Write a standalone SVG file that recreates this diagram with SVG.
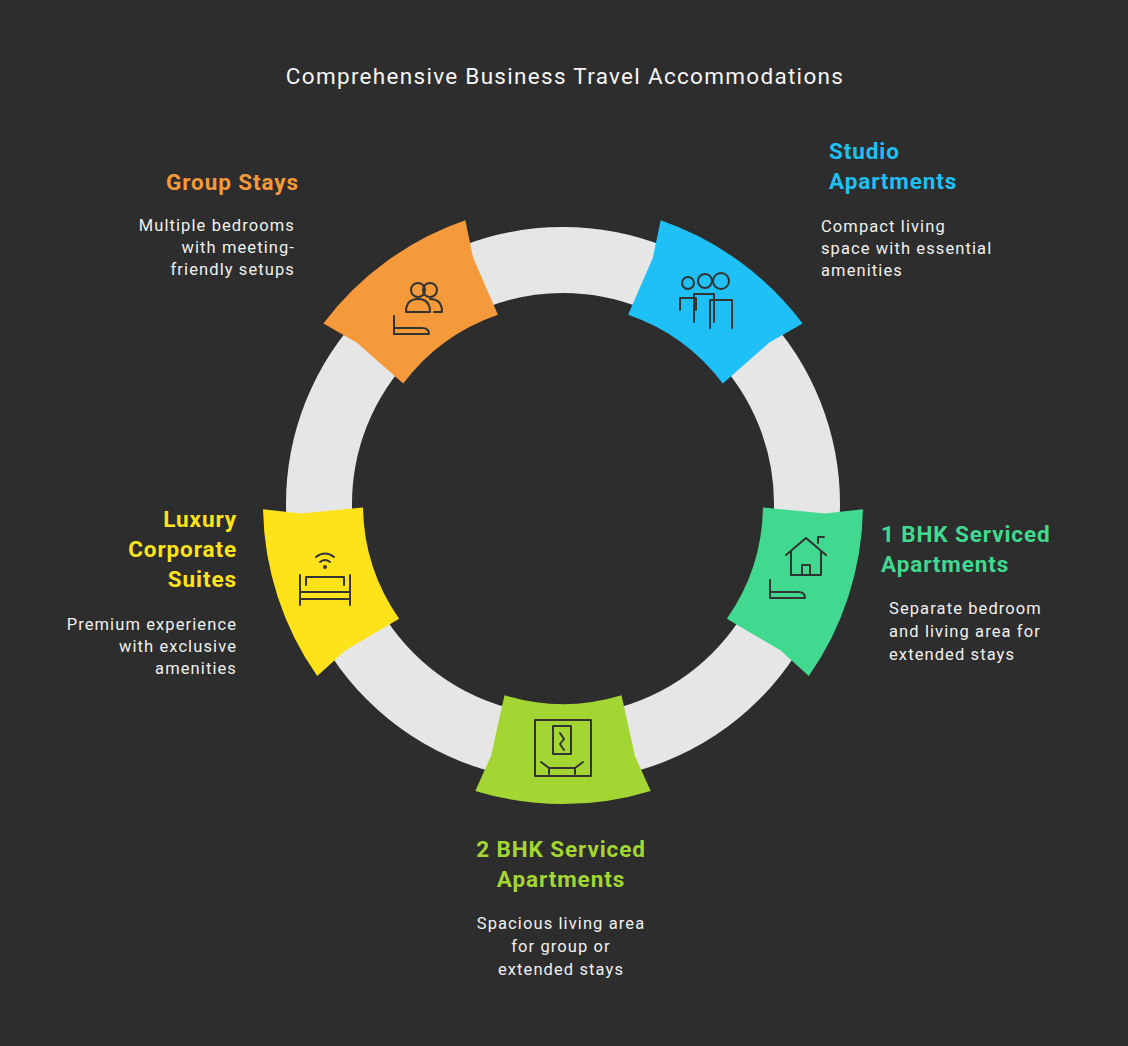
<svg xmlns="http://www.w3.org/2000/svg" width="1128" height="1046" viewBox="0 0 1128 1046">
<style>
.t{font-family:Roboto,"Liberation Sans",sans-serif}
.h{font-size:22.5px;font-weight:bold;letter-spacing:0.9px}
.d{font-size:16.5px;fill:#f0f0f0;letter-spacing:1.1px}
.ic{fill:none;stroke:#333;stroke-width:2;stroke-linecap:round;stroke-linejoin:round}
</style>
<defs>
<path id="seg" d="M286.9,-87.7 A300,300 0 0 1 286.9,87.7 L252,72 L191.3,58.5 A200,200 0 0 0 191.3,-58.5 L252,-72 Z"/>
</defs>
<rect width="1128" height="1046" fill="#2d2d2d"/>
<text class="t" x="565" y="84" text-anchor="middle" font-size="22.5" letter-spacing="1.3" fill="#f5f5f5">Comprehensive Business Travel Accommodations</text>
<g id="connectors">
<circle cx="563" cy="504" r="244" fill="none" stroke="#e6e6e6" stroke-width="66"/>
</g>
<g id="studio">
<use href="#seg" fill="#1EC0F5" transform="translate(563,504) rotate(-54)"/>
<g class="ic"><circle cx="688" cy="283" r="6"/><circle cx="705" cy="281" r="7"/><circle cx="721" cy="281" r="8"/><path d="M680,310 v-12 h16 v12 M694,322 v-28 h20 v28 M710,328 v-28 h22 v28"/></g>
<text class="t h" x="829" y="159" fill="#1EC0F5">Studio</text>
<text class="t h" x="829" y="189" fill="#1EC0F5">Apartments</text>
<text class="t d" x="821" y="232">Compact living</text>
<text class="t d" x="821" y="254">space with essential</text>
<text class="t d" x="821" y="276">amenities</text>
</g>
<g id="bhk1">
<use href="#seg" fill="#41D98F" transform="translate(563,504) rotate(18)"/>
<g class="ic"><path d="M786,555 l20,-17 l20,17 M791,551 v24 h30 v-24 M802,575 v-10 h8 v10 M818,543 v-6 h6"/><path d="M770,598 v-18 M770,592 h28 q7,0 7,6 h-35"/></g>
<text class="t h" x="881" y="542" fill="#41D98F">1 BHK Serviced</text>
<text class="t h" x="881" y="572" fill="#41D98F">Apartments</text>
<text class="t d" x="889" y="614">Separate bedroom</text>
<text class="t d" x="889" y="637">and living area for</text>
<text class="t d" x="889" y="660">extended stays</text>
</g>
<g id="bhk2">
<use href="#seg" fill="#A3D633" transform="translate(563,504) rotate(90)"/>
<g class="ic"><rect x="535" y="720" width="56" height="56"/><rect x="553" y="726" width="18" height="28"/><path d="M560,733 l4,6 l-4,5 l4,6 M541,762 l8,6 h26 l8,-6 M549,768 v6 M575,768 v6"/></g>
<text class="t h" x="561" y="857" text-anchor="middle" fill="#A3D633">2 BHK Serviced</text>
<text class="t h" x="561" y="887" text-anchor="middle" fill="#A3D633">Apartments</text>
<text class="t d" x="561" y="929" text-anchor="middle">Spacious living area</text>
<text class="t d" x="561" y="952" text-anchor="middle">for group or</text>
<text class="t d" x="561" y="975" text-anchor="middle">extended stays</text>
</g>
<g id="luxury">
<use href="#seg" fill="#FFE31A" transform="translate(563,504) rotate(162)"/>
<g class="ic"><path d="M316,557 q9,-7 18,0 M320,562 q5,-4 10,0"/><circle cx="325" cy="567" r="1"/><path d="M300,605 v-30 M350,605 v-30 M300,592 h50 M300,599 h50 M306,585 v-8 h38 v8"/></g>
<text class="t h" x="237" y="527" text-anchor="end" fill="#FFE31A">Luxury</text>
<text class="t h" x="237" y="557" text-anchor="end" fill="#FFE31A">Corporate</text>
<text class="t h" x="237" y="587" text-anchor="end" fill="#FFE31A">Suites</text>
<text class="t d" x="237" y="630" text-anchor="end">Premium experience</text>
<text class="t d" x="237" y="652" text-anchor="end">with exclusive</text>
<text class="t d" x="237" y="674" text-anchor="end">amenities</text>
</g>
<g id="group">
<use href="#seg" fill="#F59A3A" transform="translate(563,504) rotate(234)"/>
<g class="ic"><circle cx="418" cy="290" r="7"/><circle cx="430" cy="290" r="7"/><path d="M406,312 q0,-13 12,-13 q12,0 12,13 z M430,299 q12,0 12,13 h-8"/><path d="M394,334 v-18 M394,328 h28 q7,0 7,6 h-35"/></g>
<text class="t h" x="299" y="190" text-anchor="end" fill="#F59A3A">Group Stays</text>
<text class="t d" x="295" y="231" text-anchor="end">Multiple bedrooms</text>
<text class="t d" x="295" y="253" text-anchor="end">with meeting-</text>
<text class="t d" x="295" y="275" text-anchor="end">friendly setups</text>
</g>
</svg>
